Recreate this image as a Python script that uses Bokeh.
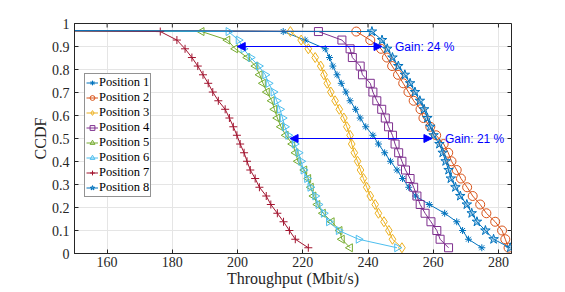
import numpy as np
from bokeh.plotting import figure
from bokeh.models import Range1d, FixedTicker, Legend, LegendItem, Arrow, NormalHead, Label
from bokeh.embed import file_html
from bokeh.resources import INLINE

# ---- data ----
lead_level = 0.97
ccdf_levels = [0.965, 0.928, 0.890, 0.852, 0.815, 0.777, 0.740, 0.702, 0.664, 0.627,
               0.589, 0.551, 0.514, 0.476, 0.438, 0.401, 0.363, 0.326, 0.288, 0.250,
               0.213, 0.175, 0.138, 0.100, 0.062, 0.025]
lead_throughput = 130.0

pos1 = [214.0, 220.7, 226.9, 228.2, 229.2, 230.5, 231.8, 233.2, 234.5, 236.2, 237.6, 239.3, 241.5,
        243.2, 245.1, 246.9, 248.9, 250.6, 252.5, 254.6, 258.8, 263.5, 267.2, 269.0, 270.8, 274.9]
pos2 = [236.4, 240.7, 244.0, 245.8, 247.4, 249.2, 250.8, 252.4, 254.0, 256.1, 257.0, 259.1, 260.9,
        263.2, 264.6, 265.6, 267.2, 268.5, 270.4, 272.1, 274.4, 276.3, 279.0, 281.1, 282.1, 283.1]
pos3 = [216.2, 219.5, 221.7, 223.8, 225.5, 226.5, 227.5, 228.6, 229.9, 231.2, 232.6, 233.5, 234.5,
        235.0, 235.8, 236.8, 237.7, 238.6, 239.6, 240.7, 242.2, 243.2, 244.9, 246.4, 247.5, 250.4]
pos4 = [224.8, 232.0, 234.5, 235.2, 237.6, 238.3, 240.7, 241.5, 242.7, 244.2, 245.3, 246.3, 247.5,
        248.3, 249.4, 250.4, 251.5, 252.9, 254.0, 255.0, 256.0, 257.5, 259.3, 261.1, 262.1, 264.7]
pos5 = [189.0, 196.9, 199.3, 203.0, 205.5, 206.8, 207.8, 209.0, 210.5, 211.3, 212.2, 213.3, 214.8,
        216.8, 217.8, 218.5, 220.5, 221.7, 222.5, 223.3, 224.5, 226.2, 228.9, 231.3, 232.0, 234.5]
pos6 = [197.2, 200.3, 201.8, 204.0, 206.5, 208.5, 209.5, 211.0, 212.0, 213.0, 213.8, 214.5, 215.5,
        217.5, 218.7, 219.5, 220.2, 221.3, 222.3, 223.8, 224.8, 226.4, 228.0, 231.0, 237.1, 248.9]
pos7 = [176.3, 181.4, 183.9, 186.0, 187.8, 189.4, 191.0, 192.4, 194.1, 196.2, 197.5, 198.7, 199.8,
        200.8, 202.0, 202.9, 203.9, 205.4, 206.7, 208.8, 210.2, 212.2, 214.1, 215.9, 217.7, 221.7]
pos8 = [241.2, 244.3, 245.9, 247.5, 249.3, 251.3, 252.9, 254.4, 255.9, 257.2, 258.2, 259.1, 260.1,
        261.9, 262.9, 263.8, 264.7, 265.4, 266.8, 268.3, 270.3, 271.8, 273.4, 276.0, 278.5, 283.6]

series_names = ["Position 1", "Position 2", "Position 3", "Position 4",
                "Position 5", "Position 6", "Position 7", "Position 8"]
series_values = [pos1, pos2, pos3, pos4, pos5, pos6, pos7, pos8]

x_ticks = [160, 180, 200, 220, 240, 260, 280]
y_ticks = [0, 0.1, 0.2, 0.3, 0.4, 0.5, 0.6, 0.7, 0.8, 0.9, 1]

gain_levels = [0.9, 0.5]
gain_low = [199.9, 216.1]
gain_high = [244.3, 259.6]
gain_labels = ["Gain: 24 %", "Gain: 21 %"]

# ---- styles ----
colors = ["#0072BD", "#D95319", "#EDB120", "#7E2F8E", "#77AC30", "#4DBEEE", "#A2142F", "#0072BD"]
markers = ["asterisk", "circle", "diamond", "square", "triangle", "triangle", "cross", "star"]
angles = [0, 0, 0, 0, np.pi / 2, -np.pi / 2, 0, 0]
sizes = [7, 9, 10, 8, 8, 8, 8, 10]
fill_alphas = [0, 0, 0, 0, 0, 0, 0, 0.3]

AX = "#262626"
SERIF = "Liberation Serif"

x_rng = Range1d(150, 284)
y_rng = Range1d(0, 1)
p = figure(width=560, height=292, output_backend="svg", toolbar_location=None,
           x_range=x_rng, y_range=y_rng,
           min_border_left=74, min_border_right=49, min_border_top=23, min_border_bottom=39)
p.background_fill_color = "white"
p.border_fill_color = "white"
p.outline_line_color = AX
p.outline_line_width = 1

p.xaxis.ticker = FixedTicker(ticks=x_ticks)
p.yaxis.ticker = FixedTicker(ticks=y_ticks)
p.yaxis.major_label_overrides = {0: "0", 1: "1"}

for ax in (p.xaxis[0], p.yaxis[0]):
    ax.major_tick_in = 4
    ax.major_tick_out = 0
    ax.minor_tick_line_color = None
    ax.axis_line_color = AX
    ax.major_tick_line_color = AX
    ax.major_label_text_font = SERIF
    ax.major_label_text_font_size = "14px"
    ax.major_label_text_color = AX
    ax.axis_label_text_font = SERIF
    ax.axis_label_text_font_size = "16px"
    ax.axis_label_text_font_style = "normal"
    ax.axis_label_text_color = AX

p.xaxis.axis_label = "Throughput (Mbit/s)"
p.yaxis.axis_label = "CCDF"
p.xaxis.major_label_standoff = 3
p.xaxis.axis_label_standoff = 0
p.yaxis.major_label_standoff = 5
p.yaxis.axis_label_standoff = 0

p.xgrid.grid_line_color = "#e5e5e5"
p.ygrid.grid_line_color = "#e5e5e5"
p.xgrid.ticker = FixedTicker(ticks=x_ticks)
p.ygrid.ticker = FixedTicker(ticks=y_ticks)

# inward ticks on the top and right edges of the box
p.scatter(x_ticks, [y_rng.end] * len(x_ticks), marker="dash", angle=np.pi / 2, size=8,
          line_color=AX, line_width=1)
p.scatter([x_rng.end] * len(y_ticks), y_ticks, marker="dash", size=8, line_color=AX, line_width=1)

items = []
levels = [lead_level] + ccdf_levels
for name, vals, c, m, ang, s, fa in zip(series_names, series_values, colors, markers, angles,
                                        sizes, fill_alphas):
    xs = [lead_throughput] + vals
    r1 = p.line(xs, levels, line_color=c, line_width=1)
    r2 = p.scatter(vals, ccdf_levels, marker=m, size=s, angle=ang, line_color=c,
                   fill_color=c, fill_alpha=fa, line_width=1)
    items.append(LegendItem(label=name, renderers=[r1, r2]))

legend = Legend(items=items, location=(10, 56), margin=0, padding=1, spacing=0,
                glyph_width=12, glyph_height=15, label_height=15, label_standoff=1,
                label_text_font=SERIF, label_text_font_size="12.5px", label_text_color="black",
                label_text_line_height=1.0,
                border_line_color=AX, border_line_width=0.7, background_fill_color="white",
                background_fill_alpha=1)
p.add_layout(legend, "center")

for yl, lo, hi, lab in zip(gain_levels, gain_low, gain_high, gain_labels):
    p.add_layout(Arrow(x_start=lo, y_start=yl, x_end=hi, y_end=yl,
                       line_color="#0000FF", line_width=1.2,
                       start=NormalHead(size=8, fill_color="#0000FF", line_color="#0000FF"),
                       end=NormalHead(size=8, fill_color="#0000FF", line_color="#0000FF")))
    p.add_layout(Label(x=hi, y=yl, x_offset=13, text=lab, text_font="Liberation Sans",
                       text_font_size="12px", text_color="#0000FF", text_baseline="middle",
                       text_align="left"))

open("out.html", "w").write(file_html(p, INLINE))
